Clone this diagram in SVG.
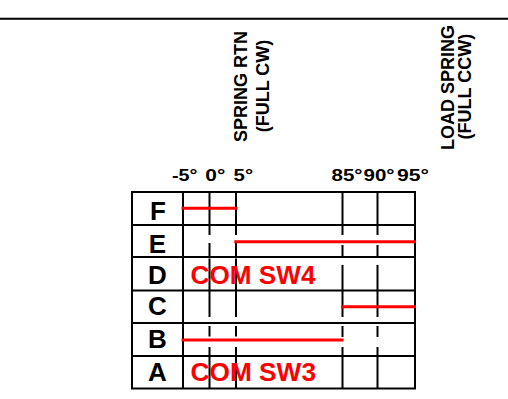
<svg xmlns="http://www.w3.org/2000/svg" width="508" height="399" viewBox="0 0 508 399">
<style>
.bg{fill:#ffffff}
.ln{stroke:#000;stroke-width:2;fill:none}
.vl{stroke:#000;stroke-width:2;fill:none}
.rd{stroke:#ff0000;stroke-width:3;fill:none}
.lbl{font-family:"Liberation Sans",Arial,sans-serif;font-weight:bold;fill:#000}
.row{font-size:26px;text-anchor:middle}
.deg{font-size:17px}
.rot{font-size:18px;text-anchor:middle}
.com{font-family:"Liberation Sans",Arial,sans-serif;font-weight:bold;font-size:26px;fill:#ff0000}
</style>
<rect class="bg" x="0" y="0" width="508" height="399"/>
<line class="ln" x1="0" y1="18.8" x2="508" y2="18.8" stroke-width="2.3"/>

<g id="headers">
<text class="lbl rot" transform="translate(246.5,86.5) rotate(-90)">SPRING RTN</text>
<text class="lbl rot" transform="translate(269,86) rotate(-90)">(FULL CW)</text>
<text class="lbl rot" transform="translate(453.5,87.5) rotate(-90)">LOAD SPRING</text>
<text class="lbl rot" transform="translate(470.5,86.7) rotate(-90)">(FULL CCW)</text>
</g>

<g id="degrees">
<text class="lbl deg" x="172" y="180.7" textLength="25.5" lengthAdjust="spacingAndGlyphs">-5°</text>
<text class="lbl deg" x="205.3" y="180.7" textLength="20" lengthAdjust="spacingAndGlyphs">0°</text>
<text class="lbl deg" x="233.6" y="180.7" textLength="19.5" lengthAdjust="spacingAndGlyphs">5°</text>
<text class="lbl deg" x="331.5" y="180.7" textLength="31" lengthAdjust="spacingAndGlyphs">85°</text>
<text class="lbl deg" x="363.5" y="180.7" textLength="31" lengthAdjust="spacingAndGlyphs">90°</text>
<text class="lbl deg" x="397" y="180.7" textLength="32" lengthAdjust="spacingAndGlyphs">95°</text>
</g>

<g id="grid">
<rect class="ln" x="132" y="192" width="283" height="196.5"/>
<line class="ln" x1="132" y1="225" x2="415" y2="225"/>
<line class="ln" x1="132" y1="257" x2="415" y2="257"/>
<line class="ln" x1="132" y1="290.5" x2="415" y2="290.5"/>
<line class="ln" x1="132" y1="323" x2="415" y2="323" stroke-width="2.4"/>
<line class="ln" x1="132" y1="356" x2="415" y2="356"/>
<line class="ln" x1="183" y1="192" x2="183" y2="388.5"/>
<path class="vl" d="M209.5 192V235M209.5 243V256.5M209.5 258.5V317M209.5 326V336.5M209.5 347V388.5"/>
<path class="vl" d="M236 192V235M236 243V256.5M236 258.5V317M236 326V336.5M236 347V388.5"/>
<path class="vl" d="M342.5 192V235M342.5 245V256.5M342.5 265V317M342.5 326V337M342.5 347V388.5"/>
<path class="vl" d="M377.5 192V235M377.5 245V256.5M377.5 265V317M377.5 326V337M377.5 347V388.5"/>
</g>

<g id="rows">
<g id="row-F"><text class="lbl row" x="158" y="220">F</text></g>
<g id="row-E"><text class="lbl row" x="157.5" y="252.5">E</text></g>
<g id="row-D"><text class="lbl row" x="157.5" y="284">D</text><text class="com" x="190.5" y="283.5" textLength="125" lengthAdjust="spacingAndGlyphs">COM SW4</text></g>
<g id="row-C"><text class="lbl row" x="157.5" y="315">C</text></g>
<g id="row-B"><text class="lbl row" x="157.5" y="348.3">B</text></g>
<g id="row-A"><text class="lbl row" x="157.5" y="381">A</text><text class="com" x="190.5" y="381" textLength="125.5" lengthAdjust="spacingAndGlyphs">COM SW3</text></g>
</g>

<g id="connectors">
<line class="rd" x1="181.5" y1="208.3" x2="237.5" y2="208.3"/>
<line class="rd" x1="234.3" y1="241.7" x2="416" y2="241.7"/>
<line class="rd" x1="341" y1="306.7" x2="416" y2="306.7"/>
<line class="rd" x1="181.5" y1="340" x2="343.5" y2="340"/>
</g>
</svg>
